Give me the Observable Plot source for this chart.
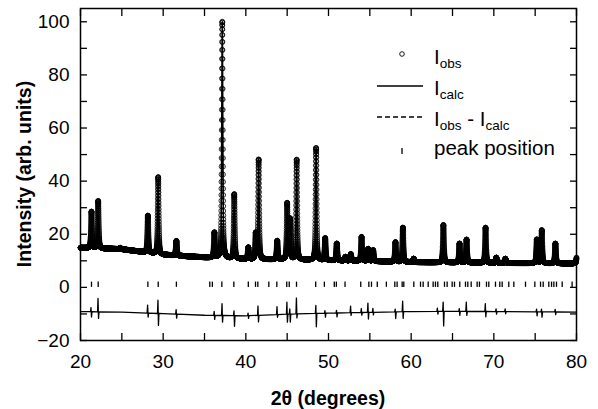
<!DOCTYPE html>
<html><head><meta charset="utf-8">
<script src="https://cdn.jsdelivr.net/npm/d3@7"></script>
<script src="https://cdn.jsdelivr.net/npm/@observablehq/plot@0.6"></script>
<style>body{margin:0;background:#fff}</style>
</head><body><div id="chart"></div>
<script>
// ---- data ----
// background level of the pattern (2θ, intensity)
const bgTheta = [20, 21, 25, 30, 35, 40, 45, 50, 55, 60, 65, 70, 75, 80];
const bgInt   = [14.9, 14.8, 14.4, 12.3, 11.3, 10.6, 10.5, 10.2, 9.9, 9.5, 9.4, 9.2, 9.1, 9.0];
// Bragg peaks: position (2θ) and top intensity
const peakTheta  = [21.33, 22.14, 24.8, 28.15, 29.4, 31.6, 36.2, 37.15, 38.6, 40.3, 41.2, 41.55, 43.8, 45.0, 45.35, 46.15, 48.5, 49.6, 51.0, 52.05, 52.7, 54.0, 54.8, 55.4, 58.1, 59.0, 60.3, 63.9, 65.85, 66.7, 69.0, 70.3, 71.4, 75.2, 75.8, 77.45, 80.1];
const peakHeight = [28.5, 32.5, 14.9, 27, 41.5, 17.5, 20.5, 100, 35, 15, 20, 48, 17.5, 31.5, 25.5, 48, 52.5, 18.5, 16.5, 11.5, 12.5, 19, 14.5, 14, 17, 22.5, 10.8, 23.5, 16.5, 18, 22.5, 11.2, 10.8, 18, 21.5, 16.5, 16];
// difference curve: baseline and spikes (position, excursion up, excursion down)
const diffBaseTheta = [20, 25, 30, 35, 40, 45, 50, 55, 60, 65, 70, 75, 80];
const diffBaseInt   = [-9.1, -9.3, -9.9, -10.5, -10.7, -10.1, -9.7, -9.4, -9.1, -9.0, -9.1, -9.2, -9.3];
const spikeTheta = [21.3, 22.15, 28.15, 29.4, 31.6, 36.2, 37.15, 38.6, 40.3, 41.5, 43.8, 45.0, 45.35, 46.15, 48.5, 49.6, 51.0, 52.7, 54.0, 54.8, 55.4, 58.1, 59.0, 63.2, 63.9, 65.85, 66.7, 69.0, 70.3, 71.4, 75.2, 75.8, 77.45];
const spikeUp    = [1.5, 5, 3, 5, 1.7, 1.5, 4.5, 1.8, 1, 3.5, 3, 4.5, 2, 6, 3, 1, 1, 2.5, 1.5, 3.5, 1.5, 1, 4, 1.2, 3.5, 1, 3.5, 3, 1, 1, 1, 1, 1];
const spikeDown  = [2, 2.5, 1.5, 4.5, 1.5, 1.5, 2.5, 4, 1, 2.5, 1, 3, 3, 1.5, 5, 1.5, 1.5, 1, 1, 2.5, 1, 2.5, 2.5, 1, 5.5, 1.5, 1.5, 2, 1, 0.8, 1.5, 2, 1];
// reflection markers
const reflTheta = [21.33, 22.14, 28.15, 29.4, 31.6, 35.64, 35.95, 37.1, 38.55, 40.3, 41.17, 41.45, 42.78, 43.75, 44.95, 45.25, 46.13, 48.45, 49.5, 50.7, 50.95, 52.0, 53.9, 54.88, 55.2, 55.9, 57.0, 58.02, 58.3, 58.91, 59.11, 60.32, 61.13, 61.45, 62.06, 62.66, 62.94, 63.22, 64.03, 64.35, 64.96, 65.24, 65.88, 66.57, 66.85, 67.26, 67.98, 68.26, 69.11, 69.39, 70.2, 70.72, 71.01, 71.81, 72.42, 73.83, 74.96, 75.65, 75.97, 76.65, 76.98, 77.26, 77.58, 78.27, 79.47];
const reflRowY = 1;
const xTicksMajor = [20, 30, 40, 50, 60, 70, 80];
const yTicksMajor = [-20, 0, 20, 40, 60, 80, 100];

// ---- build the tables ----
const lerp = (xs, ys, t) => {
  let i = d3.bisectRight(xs, t) - 1;
  i = Math.max(0, Math.min(xs.length - 2, i));
  const f = (t - xs[i]) / (xs[i + 1] - xs[i]);
  return ys[i] + f * (ys[i + 1] - ys[i]);
};
const fwhm = 0.15, eta = 0.45;
const shape = dx => {
  const u = (dx / fwhm) ** 2;
  return eta / (1 + 4 * u) + (1 - eta) * Math.exp(-4 * Math.LN2 * u);
};
const peaks = peakTheta.map((p, i) => ({p, a: peakHeight[i] - lerp(bgTheta, bgInt, p)}));
const profile = d3.range(0, 12001).map(i => {
  const t = 20 + i * 0.005;
  let v = lerp(bgTheta, bgInt, t);
  for (const k of peaks) if (Math.abs(t - k.p) < 3) v += k.a * shape(t - k.p);
  return {t, v};
});
const diff = [];
diffBaseTheta.forEach((t, i) => diff.push({t, v: diffBaseInt[i]}));
spikeTheta.forEach((p, i) => {
  const b = lerp(diffBaseTheta, diffBaseInt, p);
  diff.push({t: p - 0.09, v: b}, {t: p - 0.03, v: b + spikeUp[i]}, {t: p + 0.03, v: b - spikeDown[i]}, {t: p + 0.09, v: b});
});
diff.sort((a, b) => a.t - b.t);

const blank = () => "";
const plot = Plot.plot({
  width: 598, height: 409,
  marginLeft: 80, marginRight: 22, marginTop: 8, marginBottom: 69,
  x: {domain: [20, 80]},
  y: {domain: [-20, 105]},
  style: {fontFamily: "'Liberation Sans', Arial, sans-serif", fontSize: "19px", color: "black", background: "white"},
  marks: [
    Plot.dot(profile, {x: "t", y: "v", r: 2.4, stroke: "black", strokeWidth: 0.8, fill: "none"}),
    Plot.line(profile, {x: "t", y: "v", stroke: "black", strokeWidth: 1.5}),
    Plot.line(diff, {x: "t", y: "v", stroke: "black", strokeWidth: 1.3}),
    Plot.ruleX(reflTheta, {x: d => d, y1: () => reflRowY - 1, y2: () => reflRowY + 1, stroke: "black", strokeWidth: 1.3}),
    Plot.frame({stroke: "black", strokeWidth: 1.5}),
    Plot.axisX({anchor: "bottom", ticks: d3.range(20, 81, 5), tickSize: -7, tickFormat: blank, label: null, strokeWidth: 1.3}),
    Plot.axisX({anchor: "top", ticks: d3.range(20, 81, 5), tickSize: -7, tickFormat: blank, label: null, strokeWidth: 1.3}),
    Plot.axisY({anchor: "left", ticks: d3.range(-20, 101, 10), tickSize: -7, tickFormat: blank, label: null, strokeWidth: 1.3}),
    Plot.axisY({anchor: "right", ticks: d3.range(-20, 101, 10), tickSize: -7, tickFormat: blank, label: null, strokeWidth: 1.3}),
    Plot.axisX({anchor: "bottom", ticks: xTicksMajor, tickSize: 0, tickPadding: 14, label: null}),
    Plot.axisY({anchor: "left", ticks: yTicksMajor, tickSize: 0, tickPadding: 11, label: null})
  ]
});
document.getElementById("chart").appendChild(plot);

// ---- axis titles and legend ----
const svg = d3.select(plot);
const font = "'Liberation Sans', Arial, sans-serif";
svg.append("text").attr("transform", "translate(24,174) rotate(-90)")
  .attr("text-anchor", "middle").attr("dominant-baseline", "central")
  .style("font", `bold 19.5px ${font}`).text("Intensity (arb. units)");
svg.append("text").attr("x", 328).attr("y", 398)
  .attr("text-anchor", "middle").attr("dominant-baseline", "central")
  .style("font", `bold 19.5px ${font}`).text("2θ (degrees)");

const lg = svg.append("g").style("font", `20.5px ${font}`).attr("fill", "black").attr("text-anchor", "start");
const sub = (y, parts) => {
  const t = lg.append("text").attr("x", 434).attr("y", y).attr("text-anchor", "start");
  let lowered = false;
  parts.forEach(([s, isSub]) => {
    const ts = t.append("tspan").text(s);
    if (isSub) { ts.attr("font-size", "13.5px").attr("dy", 4); lowered = true; }
    else if (lowered) { ts.attr("dy", -4); lowered = false; }
  });
};
lg.append("circle").attr("cx", 402).attr("cy", 54).attr("r", 2.3).attr("fill", "none").attr("stroke", "black").attr("stroke-width", 0.9);
sub(64, [["I", false], ["obs", true]]);
lg.append("line").attr("x1", 377).attr("x2", 423).attr("y1", 86).attr("y2", 86).attr("stroke", "black").attr("stroke-width", 1.5);
sub(95, [["I", false], ["calc", true]]);
lg.append("line").attr("x1", 377).attr("x2", 423).attr("y1", 117).attr("y2", 117).attr("stroke", "black").attr("stroke-width", 1.3).attr("stroke-dasharray", "5,3");
sub(126, [["I", false], ["obs", true], [" - I", false], ["calc", true]]);
lg.append("line").attr("x1", 402).attr("x2", 402).attr("y1", 148).attr("y2", 154).attr("stroke", "black").attr("stroke-width", 1.3);
lg.append("text").attr("x", 434).attr("y", 155).attr("text-anchor", "start").text("peak position");
</script></body></html>
